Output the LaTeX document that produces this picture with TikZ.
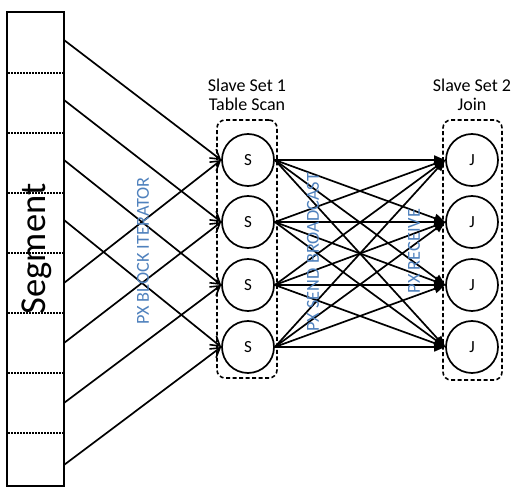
\documentclass[tikz,border=0pt]{standalone}
\usepackage{fontspec}
\setmainfont{Carlito}
\usetikzlibrary{arrows.meta}
\definecolor{pxblue}{RGB}{79,129,189}
\tikzset{
  ln/.style={line width=1.7pt},
  nd/.style={circle,draw,line width=1.7pt,minimum size=52pt,inner sep=0pt,font=\fontsize{17}{18}\selectfont},
  grp/.style={draw,dash pattern=on 4pt off 2.5pt,line width=1.6pt,rounded corners=8pt,inner sep=0pt},
  ttl/.style={align=center,font=\fontsize{18}{18.5}\selectfont},
  lbl/.style={rotate=90,text=pxblue,font=\fontsize{18.3}{20}\selectfont,inner sep=0pt},
  inarr/.style={ln,-{Straight Barb[length=9pt,width=11pt,line width=1.6pt]}},
  outarr/.style={ln,-{Triangle[length=11pt,width=9pt]}}
}
\begin{document}
\begin{tikzpicture}[x=1pt,y=-1pt]
\useasboundingbox (0,0) rectangle (523,494);
\fill[white] (0,0) rectangle (523,494);
% segment column
\node[draw,line width=1.7pt,minimum width=57pt,minimum height=474pt,inner sep=0pt] (seg) at (35.5,249) {};
\foreach \yy in {73,133,193,253,313,373,433}
  \draw[line width=1.6pt,dash pattern=on 1.6pt off 1.4pt] (8,\yy) -- (63,\yy);
\node[rotate=90,font=\fontsize{36.5}{40}\selectfont,inner sep=0pt] (segtxt) at (37,249) {Segment};
% start points
\foreach \i/\yy in {1/40,2/100,3/160,4/220,5/283,6/343,7/403,8/465}
  \coordinate (p\i) at (64,\yy);
% groups
\node[grp,minimum width=60pt,minimum height=258pt] (box1) at (247,249) {};
\node[grp,minimum width=59pt,minimum height=260pt] (box2) at (472.5,250) {};
% nodes
\foreach \i/\yy in {1/160,2/222,3/285,4/347}{
  \node[nd] (s\i) at (248,\yy) {S};
  \node[nd] (j\i) at (472,\yy) {J};
}
% titles
\node[ttl] (t1) at (247,95) {Slave Set 1\\Table Scan};
\node[ttl] (t2) at (472,95) {Slave Set 2\\Join};
% segment to S
\draw[inarr] (p1) -- (s1.west);
\draw[inarr] (p2) -- (s2.west);
\draw[inarr] (p3) -- (s3.west);
\draw[inarr] (p4) -- (s4.west);
\draw[inarr] (p5) -- (s1.west);
\draw[inarr] (p6) -- (s2.west);
\draw[inarr] (p7) -- (s3.west);
\draw[inarr] (p8) -- (s4.west);
% S to J
\foreach \a in {1,2,3,4}
  \foreach \b in {1,2,3,4}
    \draw[outarr] (s\a.east) -- (j\b.west);
% labels
\node[lbl] (l1) at (143,251) {PX BLOCK ITERATOR};
\node[lbl] (l2) at (313,252) {PX SEND BROADCAST};
\node[lbl] (l3) at (414,251) {PX RECEIVE};
\end{tikzpicture}
\end{document}
